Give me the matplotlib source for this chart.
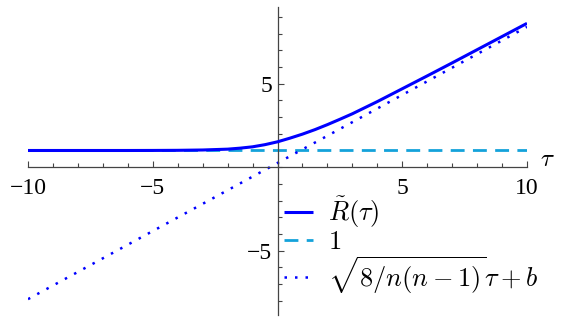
import numpy as np
import matplotlib
matplotlib.use("Agg")
import matplotlib.pyplot as plt

# values
tau = [-10, -8, -6, -5, -4, -3, -2, -1.5, -1, -0.5, 0, 0.5, 1, 1.5, 2, 2.5,
       3, 4, 5, 6, 7, 8, 9, 10]
r_tilde = [1.0, 1.0, 1.0, 1.003, 1.01, 1.03, 1.08, 1.14, 1.22, 1.35, 1.52,
           1.74, 1.98, 2.25, 2.55, 2.87, 3.2, 3.93, 4.7, 5.47, 6.25, 7.04,
           7.83, 8.62]
const_tau = [-10, 10]
const_val = [1, 1]
asym_tau = [-10, 10]
asym_val = [-7.91, 8.41]

xticks = [-10, -5, 5, 10]
yticks = [-5, 5]

plt.rcParams['font.family'] = ['Liberation Serif', 'DejaVu Serif']
plt.rcParams['mathtext.fontset'] = 'cm'

W, H = 566, 324
fig = plt.figure(figsize=(W / 100, H / 100), dpi=100)
ax = fig.add_axes([28 / W, 1 - 315 / H, (527 - 28) / W, (315 - 7) / H])

blue = '#0000ff'
cyan = '#14a2da'

ax.plot(const_tau, const_val, color=cyan, lw=2.0, linestyle=(0, (5, 3)),
        label='$1$', zorder=2)
ax.plot(tau, r_tilde, color=blue, lw=2.2, label=r'$\tilde{R}(\tau)$',
        zorder=3, solid_capstyle='butt')
ax.plot(asym_tau, asym_val, color=blue, lw=1.8, linestyle=(0, (1, 3.2)),
        label=r'$\sqrt{8/n(n-1)}\tau+b$', zorder=2)

ax.set_xlim(-10, 10)
ax.set_ylim(-8.86, 9.6)

for s in ['top', 'right']:
    ax.spines[s].set_visible(False)
ax.spines['left'].set_position(('data', 0))
ax.spines['bottom'].set_position(('data', 0))
for s in ['left', 'bottom']:
    ax.spines[s].set_color('#444444')
    ax.spines[s].set_linewidth(0.9)

ax.set_xticks(xticks)
ax.set_yticks(yticks)
ax.set_xticks(np.arange(-10, 11, 1), minor=True)
ax.set_yticks(np.arange(-8, 10, 1), minor=True)
ax.tick_params(which='both', direction='in', color='#444444', width=0.8)
ax.tick_params(which='major', length=4.5, labelsize=17)
ax.tick_params(axis='x', which='major', pad=8)
ax.tick_params(axis='y', which='major', pad=4)
ax.tick_params(which='minor', length=2.8)

ax.text(10.83, 0.42, r'$\tau$', fontsize=18, ha='center', va='center',
        clip_on=False)

handles, labels = ax.get_legend_handles_labels()
order = [1, 0, 2]
ax.legend([handles[i] for i in order], [labels[i] for i in order],
          loc='upper left', bbox_to_anchor=(284 / W, 1 - 195 / H),
          bbox_transform=fig.transFigure, frameon=False, fontsize=19,
          borderpad=0, handlelength=1.1, handletextpad=0.55,
          labelspacing=0.0, borderaxespad=0)

fig.savefig('out.png', dpi=100)
